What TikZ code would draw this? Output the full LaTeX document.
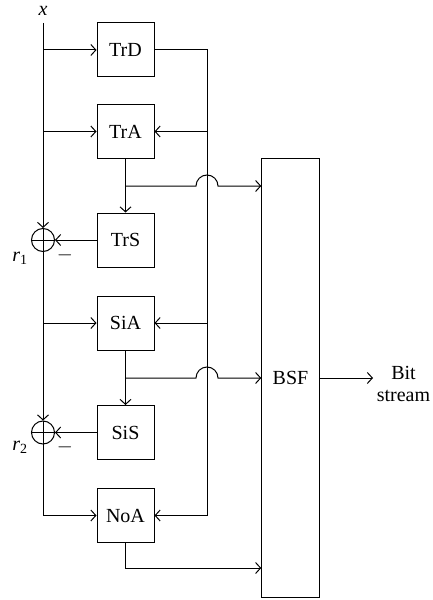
\documentclass[tikz,border=0pt]{standalone}
\usepackage{fontspec}
\setmainfont{Liberation Serif}
\usetikzlibrary{arrows.meta,calc}
\tikzset{
  arr/.style={-{Straight Barb[length=5bp,width=11bp]}},
  blk/.style={draw, minimum width=57bp, minimum height=54bp, inner sep=0pt},
  sumnode/.style={draw, circle, minimum size=23bp, inner sep=0pt},
  lbl/.style={inner sep=1pt},
}
\begin{document}
\begin{tikzpicture}[x=1bp,y=1bp,line width=1bp,font=\fontsize{20bp}{23bp}\selectfont]
\useasboundingbox (0,0) rectangle (432,-600);
% blocks
\node[blk] (TrD) at (125.5,-50) {TrD};
\node[blk] (TrA) at (125.5,-131.5) {TrA};
\node[blk] (TrS) at (125.5,-240) {TrS};
\node[blk] (SiA) at (125.5,-323) {SiA};
\node[blk] (SiS) at (125.5,-432.5) {SiS};
\node[blk] (NoA) at (125.5,-515.5) {NoA};
\node[draw, minimum width=57.5bp, minimum height=439bp, inner sep=0pt] (BSF) at (290.5,-378) {BSF};
% summing junctions
\node[sumnode] (s1) at (43,-240) {};
\node[sumnode] (s2) at (43,-432.5) {};
\draw (s1.north) -- (s1.south) (s1.west) -- (s1.east);
\draw (s2.north) -- (s2.south) (s2.west) -- (s2.east);
% labels
\node[lbl] (xin) at (43,-11) {\textit{x}};
\node[lbl] (r1) at (20,-258) {\textit{r}\textsubscript{1}};
\node[lbl] (r2) at (20,-447) {\textit{r}\textsubscript{2}};
\node[lbl] (m1) at (65,-255) {$-$};
\node[lbl] (m2) at (65,-447) {$-$};
\node[lbl, align=center, font=\fontsize{20bp}{22bp}\selectfont] (bs) at (403.5,-384) {Bit\\stream};
% coordinates
\coordinate (top) at (43,-23);
\coordinate (bus) at (207,0);
\coordinate (b1) at (125.5,-186);
\coordinate (b2) at (125.5,-378);
\coordinate (b3) at (125.5,-568);
\coordinate (out) at (373,-378);
% left input line
\draw[arr] (top) -- (s1.north);
\draw[arr] (s1.south) -- (s2.north);
\draw[arr] (s2.south) |- (NoA.west);
\draw[arr] (top |- TrD.west) -- (TrD.west);
\draw[arr] (top |- TrA.west) -- (TrA.west);
\draw[arr] (top |- SiA.west) -- (SiA.west);
% right bus
\draw[arr] (TrD.east) -- (bus |- TrD.east) -- (bus |- NoA.east) -- (NoA.east);
\draw[arr] (bus |- TrA.east) -- (TrA.east);
\draw[arr] (bus |- SiA.east) -- (SiA.east);
% analysis -> synthesis
\draw[arr] (TrA.south) -- (TrS.north);
\draw[arr] (SiA.south) -- (SiS.north);
\draw[arr] (TrS.west) -- (s1.east);
\draw[arr] (SiS.west) -- (s2.east);
% to BSF with jumps
\draw[arr] (b1) -- ($(bus |- b1)+(-11,0)$) arc (180:0:11) -- (BSF.west |- b1);
\draw[arr] (b2) -- ($(bus |- b2)+(-11,0)$) arc (180:0:11) -- (BSF.west |- b2);
\draw[arr] (NoA.south) -- (b3) -- (BSF.west |- b3);
% output
\draw[arr] (BSF.east |- out) -- (out);
\end{tikzpicture}
\end{document}
